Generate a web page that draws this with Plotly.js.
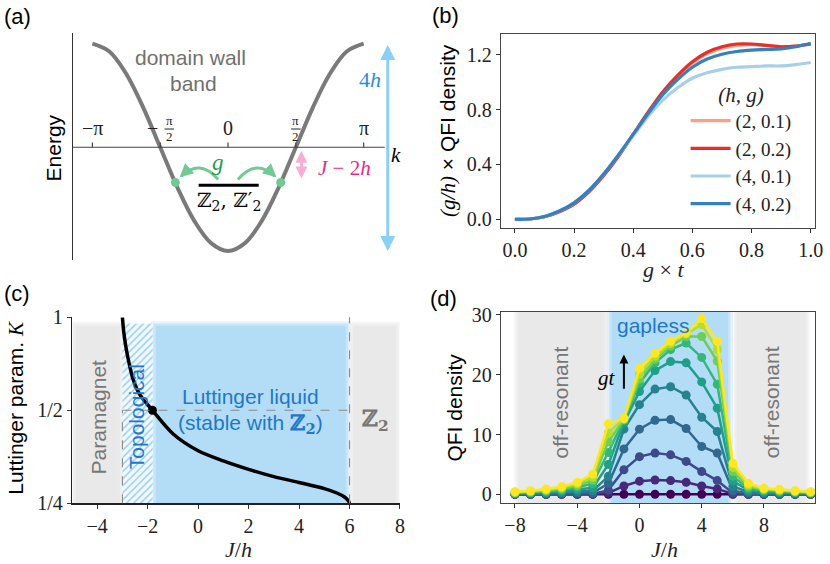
<!DOCTYPE html>
<html><head><meta charset="utf-8">
<script src="https://cdn.plot.ly/plotly-3.0.1.min.js"></script>
<style>body{margin:0;background:#fff}#plot{width:830px;height:564px}</style>
</head><body><div id="plot"></div><script>
const SERIF='"Liberation Serif","DejaVu Serif",serif';
const SANS='"Liberation Sans","DejaVu Sans",Arial,sans-serif';
const ZFONT='"DejaVu Serif","Liberation Serif",serif';

// ---------- panel (a): domain-wall band ----------
const bandK=[-3.1416,-2.7489,-2.3562,-1.9635,-1.5708,-1.1781,-0.7854,-0.3927,0,0.3927,0.7854,1.1781,1.5708,1.9635,2.3562,2.7489,3.1416];
const bandE=[1,0.924,0.707,0.383,0,-0.383,-0.707,-0.924,-1,-0.924,-0.707,-0.383,0,0.383,0.707,0.924,1];
const resK=[-1.22,1.22];
const resE=[-0.34,-0.34];
const kTickPos=[-3.1416,-1.5708,0,1.5708,3.1416];
const kTickText=['−π','−π/2','0','π/2','π'];

// ---------- panel (b): scaled QFI vs g*t ----------
const gTime=[0,0.05,0.1,0.15,0.2,0.25,0.3,0.35,0.4,0.45,0.5,0.55,0.6,0.65,0.7,0.75,0.8,0.85,0.9,0.95,1.0];
const qfiH2G01=[0,0.002,0.018,0.055,0.11,0.2,0.32,0.46,0.62,0.78,0.93,1.05,1.14,1.21,1.25,1.27,1.275,1.27,1.26,1.265,1.28];
const qfiH2G02=[0,0.002,0.018,0.055,0.11,0.2,0.32,0.46,0.62,0.78,0.93,1.05,1.15,1.22,1.26,1.28,1.28,1.27,1.26,1.265,1.28];
const qfiH4G01=[0,0.002,0.02,0.06,0.12,0.21,0.33,0.47,0.61,0.75,0.87,0.96,1.03,1.07,1.095,1.11,1.115,1.12,1.12,1.13,1.145];
const qfiH4G02=[0,0.002,0.02,0.06,0.12,0.21,0.33,0.47,0.62,0.77,0.91,1.02,1.11,1.17,1.205,1.225,1.235,1.24,1.245,1.26,1.285];
const bNames=['(2, 0.1)','(2, 0.2)','(4, 0.1)','(4, 0.2)'];
const bColors=['#fca082','#e3302a','#a8cfe8','#3481c0'];
const bTickX=[0,0.2,0.4,0.6,0.8,1.0];
const bTickXText=['0.0','0.2','0.4','0.6','0.8','1.0'];
const bTickY=[0,0.4,0.8,1.2];
const bTickYText=['0.0','0.4','0.8','1.2'];

// ---------- panel (c): Luttinger parameter ----------
const lutJ=[-3.0,-2.95,-2.86,-2.72,-2.57,-2.3,-1.81,-1.0,0,1,2,3,4,5,5.5,5.8,5.95,6.0];
const lutK=[1.0,0.9,0.8,0.7,0.627,0.56,0.5,0.42,0.37,0.343,0.322,0.305,0.292,0.279,0.27,0.262,0.255,0.25];
const critJ=[-1.81];
const critK=[0.5];
const topoX=[-3.0,-1.8,-1.8,-3.0];
const topoY=[0.25,0.25,0.955,0.955];
const cTickX=[-4,-2,0,2,4,6,8];
const cTickXText=['−4','−2','0','2','4','6','8'];
const cTickY=[0.25,0.5,1];
const cTickYText=['1/4','1/2','1'];

// ---------- panel (d): QFI density vs J/h for increasing gt ----------
const jVals=[-8,-7,-6,-5,-4,-3,-2,-1,0,1,2,3,4,5,6,7,8,9,10,11];
const qfiT0=[0,0,0,0,0,0,0,0,0,0,0,0,0,0,0,0,0,0,0,0];
const qfiT1=[0,0,0,0,0,0.02,0.2,1.4,2.2,2.4,2.3,2.0,1.4,0.9,0.05,0,0,0,0,0];
const qfiT2=[0,0,0.01,0.02,0.04,0.07,0.7,4.1,6.3,6.9,6.6,5.5,3.8,2.3,0.2,0.05,0.02,0.01,0,0];
const qfiT3=[0.03,0.05,0.07,0.1,0.2,0.25,1.8,7.6,10.9,12.4,12.5,11.0,8.0,6.9,0.6,0.15,0.08,0.05,0.04,0.03];
const qfiT4=[0.07,0.1,0.15,0.25,0.45,0.6,3.0,10.9,15.0,17.6,18.0,16.6,12.9,10.5,1.3,0.4,0.2,0.15,0.1,0.08];
const qfiT5=[0.12,0.2,0.3,0.45,0.8,1.1,5.0,12.0,17.2,20.7,22.2,22.0,18.8,14.4,2.2,0.7,0.4,0.3,0.22,0.15];
const qfiT6=[0.2,0.3,0.45,0.7,1.15,1.8,7.0,12.4,18.6,22.0,24.2,25.3,22.9,18.4,3.0,1.0,0.6,0.45,0.33,0.23];
const qfiT7=[0.28,0.4,0.6,0.9,1.45,2.4,8.8,12.5,19.3,22.6,24.8,26.4,26.4,22.3,3.8,1.3,0.75,0.58,0.42,0.3];
const qfiT8=[0.35,0.5,0.75,1.1,1.75,2.9,10.3,12.6,20.1,23.1,25.2,26.8,28.4,24.2,4.5,1.55,0.9,0.7,0.5,0.37];
const qfiT9=[0.44,0.6,0.89,1.28,2.0,3.4,11.8,12.7,21.1,23.6,25.6,27.0,29.4,25.6,5.2,1.84,1.0,0.84,0.6,0.44];
const viridis=['#440154','#482878','#3e4989','#31688e','#26828e','#1f9e89','#35b779','#6ece58','#b5de2b','#fde725'];
const dTickX=[-8,-4,0,4,8];
const dTickXText=['−8','−4','0','4','8'];
const dTickY=[0,10,20,30];

const traces=[];
// (a)
traces.push({x:bandK,y:bandE,xaxis:'x',yaxis:'y',mode:'lines',line:{color:'#7a7a7a',width:4,shape:'spline',smoothing:1},showlegend:false,hoverinfo:'skip'});
traces.push({x:resK,y:resE,xaxis:'x',yaxis:'y',mode:'markers',marker:{color:'#72c994',size:9},showlegend:false,hoverinfo:'skip'});
// (b)
[qfiH2G01,qfiH2G02,qfiH4G01,qfiH4G02].forEach((arr,i)=>{
  traces.push({x:gTime,y:arr,xaxis:'x2',yaxis:'y2',mode:'lines',name:bNames[i],line:{color:bColors[i],width:3.2,shape:'spline'},showlegend:true,hoverinfo:'skip'});
});
// (c)
traces.push({x:topoX,y:topoY,xaxis:'x3',yaxis:'y3',mode:'none',fill:'toself',fillcolor:'#eef7fd',
  fillpattern:{shape:'/',fgcolor:'#9ccff3',bgcolor:'#f2f9fe',size:5,solidity:0.3},showlegend:false,hoverinfo:'skip'});
traces.push({x:lutJ,y:lutK,xaxis:'x3',yaxis:'y3',mode:'lines',line:{color:'#000',width:3.5,shape:'spline',smoothing:0.8},showlegend:false,hoverinfo:'skip'});
traces.push({x:critJ,y:critK,xaxis:'x3',yaxis:'y3',mode:'markers',marker:{color:'#000',size:9},showlegend:false,hoverinfo:'skip'});
// (d)
[qfiT0,qfiT1,qfiT2,qfiT3,qfiT4,qfiT5,qfiT6,qfiT7,qfiT8,qfiT9].forEach((arr,i)=>{
  traces.push({x:jVals,y:arr,xaxis:'x4',yaxis:'y4',mode:'lines+markers',line:{color:viridis[i],width:2.5},
    marker:{color:viridis[i],size:9},showlegend:false,hoverinfo:'skip',cliponaxis:false});
});

const shapes=[];
function softRect(xref,yref,x0,x1,y0,y1,color,dx,dy){
  shapes.push({type:'rect',xref,yref,x0:x0-dx,x1:x1+dx,y0:y0,y1:y1+dy,fillcolor:color,opacity:0.3,line:{width:0},layer:'below'});
  shapes.push({type:'rect',xref,yref,x0:x0,x1:x1,y0:y0,y1:y1,fillcolor:color,opacity:0.6,line:{width:0},layer:'below'});
  shapes.push({type:'rect',xref,yref,x0:x0+dx,x1:x1-dx,y0:y0,y1:y1-dy,fillcolor:color,opacity:1,line:{width:0},layer:'below'});
}
const GRAY='#e9e9e9', BLUE='#b3dcf7';
// (c) regions (y in domain fraction)
softRect('x3','y3 domain',-4.95,-3.0,0,0.967,GRAY,0.1,0.012);
softRect('x3','y3 domain',-1.78,5.95,0,0.967,BLUE,0.1,0.012);
softRect('x3','y3 domain',6.05,7.95,0,0.967,GRAY,0.1,0.012);
// (d) regions
softRect('x4','y4 domain',-7.95,-2.1,0,1,GRAY,0.15,0.0);
softRect('x4','y4 domain',-1.95,5.85,0,1,BLUE,0.15,0.0);
softRect('x4','y4 domain',6.1,10.85,0,1,GRAY,0.15,0.0);
// (c) dashed guides
const dash={color:'#8a8a8a',width:1.1,dash:'dash'};
shapes.push({type:'line',xref:'x3',yref:'y3 domain',x0:-3,x1:-3,y0:0,y1:0.5,line:dash});
shapes.push({type:'line',xref:'x3',yref:'y3 domain',x0:-3,x1:6,y0:0.5,y1:0.5,line:dash});
shapes.push({type:'line',xref:'x3',yref:'y3 domain',x0:6,x1:6,y0:0,y1:1,line:dash});
// (a) k axis line + ticks
shapes.push({type:'line',xref:'x',yref:'y',x0:-3.59,x1:3.63,y0:0,y1:0,line:{color:'#444',width:1.2}});
kTickPos.forEach(k=>shapes.push({type:'line',xref:'x',yref:'y',x0:k,x1:k,y0:0,y1:0.045,line:{color:'#444',width:1.2}}));
// (a) green curved hopping arrows and overline
shapes.push({type:'path',xref:'x',yref:'y',path:'M -0.23,-0.31 Q -0.66,-0.105 -1.08,-0.28',line:{color:'#72c994',width:3}});
shapes.push({type:'path',xref:'x',yref:'y',path:'M 0.23,-0.31 Q 0.66,-0.105 1.08,-0.28',line:{color:'#72c994',width:3}});
shapes.push({type:'line',xref:'x',yref:'y',x0:-0.68,x1:0.71,y0:-0.365,y1:-0.365,line:{color:'#000',width:3}});

const ann=[];
function txt(o){ann.push(Object.assign({showarrow:false,xanchor:'center',yanchor:'middle'},o));}
// panel labels
[['(a)',0.0024,0.970],['(b)',0.518,0.973],['(c)',0.0024,0.479],['(d)',0.5157,0.470]].forEach(p=>
  txt({text:p[0],xref:'paper',yref:'paper',x:p[1],y:p[2],xanchor:'left',font:{family:SANS,size:22,color:'#000'}}));
// (a) texts
txt({text:'Energy',xref:'paper',yref:'paper',x:0.064,y:0.737,textangle:-90,font:{family:SANS,size:21,color:'#000'}});
txt({text:'domain wall',xref:'x',yref:'y',x:-0.88,y:0.87,font:{family:SANS,size:21,color:'#707070'}});
txt({text:'band',xref:'x',yref:'y',x:-0.80,y:0.615,font:{family:SANS,size:21,color:'#707070'}});
txt({text:'4<i>h</i>',xref:'x',yref:'y',x:3.29,y:0.65,font:{family:SERIF,size:22,color:'#2b8cd6'}});
txt({text:'<i>J</i> − 2<i>h</i>',xref:'x',yref:'y',x:2.70,y:-0.20,font:{family:SERIF,size:21,color:'#e7298a'}});
txt({text:'<i>k</i>',xref:'x',yref:'y',x:3.90,y:-0.07,font:{family:SERIF,size:21,color:'#000'}});
txt({text:'<i>g</i>',xref:'x',yref:'y',x:-0.23,y:-0.15,font:{family:SERIF,size:23,color:'#1f9a50'}});
txt({text:'ℤ<sub>2</sub>, ℤ′<sub>2</sub>',xref:'x',yref:'y',x:0.02,y:-0.52,font:{family:ZFONT,size:20,color:'#000'}});
kTickPos.forEach((k,i)=>{
  const t=kTickText[i];
  if(t.indexOf('/')<0){
    txt({text:t,xref:'x',yref:'y',x:k,y:0.185,font:{family:SERIF,size:20,color:'#222'}});
  } else {
    const neg=t[0]==='−';
    const fc=neg?k+0.21:k;
    if(neg) txt({text:'−',xref:'x',yref:'y',x:k-0.17,y:0.185,font:{family:SERIF,size:20,color:'#222'}});
    txt({text:'π',xref:'x',yref:'y',x:fc,y:0.255,font:{family:SERIF,size:13,color:'#222'}});
    txt({text:'2',xref:'x',yref:'y',x:fc,y:0.105,font:{family:SERIF,size:13,color:'#222'}});
    shapes.push({type:'line',xref:'x',yref:'y',x0:fc-0.11,x1:fc+0.11,y0:0.176,y1:0.176,line:{color:'#222',width:1}});
  }
});
// (a) arrows
ann.push({xref:'x',yref:'y',axref:'x',ayref:'y',x:3.70,y:-1.0,ax:3.70,ay:1.0,text:'',showarrow:true,arrowhead:2,arrowside:'end+start',arrowsize:1,arrowwidth:3,arrowcolor:'#8ccff5'});
ann.push({xref:'x',yref:'y',axref:'x',ayref:'y',x:1.70,y:-0.30,ax:1.70,ay:-0.02,text:'',showarrow:true,arrowhead:2,arrowside:'end+start',arrowsize:0.8,arrowwidth:3,arrowcolor:'#f7aed3'});
ann.push({xref:'x',yref:'y',axref:'x',ayref:'y',x:-1.12,y:-0.29,ax:-0.95,ay:-0.225,text:'',showarrow:true,arrowhead:2,arrowsize:0.9,arrowwidth:3,arrowcolor:'#72c994'});
ann.push({xref:'x',yref:'y',axref:'x',ayref:'y',x:1.12,y:-0.29,ax:0.95,ay:-0.225,text:'',showarrow:true,arrowhead:2,arrowsize:0.9,arrowwidth:3,arrowcolor:'#72c994'});
// (b) titles
txt({text:'<span style="font-family:Liberation Serif"><i>(g/h)</i></span> × QFI density',xref:'paper',yref:'paper',x:0.5398,y:0.768,textangle:-90,font:{family:SANS,size:21,color:'#000'}});
txt({text:'<i>g</i> × <i>t</i>',xref:'paper',yref:'paper',x:0.799,y:0.522,font:{family:SERIF,size:22,color:'#222'}});
// (c) texts
txt({text:'Paramagnet',xref:'x3',yref:'y3 domain',x:-3.95,y:0.464,textangle:-90,font:{family:SANS,size:21,color:'#777'}});
txt({text:'Topological',xref:'x3',yref:'y3 domain',x:-2.44,y:0.466,textangle:-90,font:{family:SANS,size:21,color:'#1f78c8'}});
txt({text:'Luttinger liquid',xref:'x3',yref:'y3 domain',x:2.07,y:0.575,font:{family:SANS,size:21,color:'#1f78c8'}});
txt({text:'(stable with <span style="font-family:DejaVu Serif"><b>ℤ<sub>2</sub></b></span>)',xref:'x3',yref:'y3 domain',x:2.07,y:0.43,font:{family:SANS,size:21,color:'#1f78c8'}});
txt({text:'<b>ℤ<sub>2</sub></b>',xref:'x3',yref:'y3 domain',x:7.03,y:0.45,font:{family:ZFONT,size:22,color:'#777'}});
txt({text:'Luttinger param. <span style="font-family:Liberation Serif"><i>K</i></span>',xref:'paper',yref:'paper',x:0.0193,y:0.277,textangle:-90,font:{family:SANS,size:21,color:'#000'}});
txt({text:'<i>J</i>/<i>h</i>',xref:'paper',yref:'paper',x:0.287,y:0.025,font:{family:SERIF,size:22,color:'#222'}});
// (d) texts
txt({text:'gapless',xref:'x4',yref:'y4',x:0.9,y:28.3,font:{family:SANS,size:21,color:'#1f78c8'}});
txt({text:'off-resonant',xref:'x4',yref:'y4',x:-5.1,y:15.4,textangle:-90,font:{family:SANS,size:21,color:'#777'}});
txt({text:'off-resonant',xref:'x4',yref:'y4',x:8.45,y:15.4,textangle:-90,font:{family:SANS,size:21,color:'#777'}});
txt({text:'<i>gt</i>',xref:'x4',yref:'y4',x:-2.1,y:19.4,font:{family:SERIF,size:21,color:'#000'}});
ann.push({xref:'x4',yref:'y4',axref:'x4',ayref:'y4',x:-1.0,y:23.4,ax:-1.0,ay:17.4,text:'',showarrow:true,arrowhead:2,arrowsize:0.9,arrowwidth:2,arrowcolor:'#000'});
txt({text:'QFI density',xref:'paper',yref:'paper',x:0.548,y:0.277,textangle:-90,font:{family:SANS,size:21,color:'#000'}});
txt({text:'<i>J</i>/<i>h</i>',xref:'paper',yref:'paper',x:0.800,y:0.026,font:{family:SERIF,size:22,color:'#222'}});

const tickBase={ticks:'outside',ticklen:4,tickwidth:1,tickcolor:'#333',tickfont:{family:SERIF,size:20,color:'#222'},
  showgrid:false,zeroline:false,showline:true,linewidth:1.2,fixedrange:true};
const layout={
  width:830,height:564,margin:{l:0,r:0,t:0,b:0},paper_bgcolor:'#fff',plot_bgcolor:'rgba(0,0,0,0)',
  showlegend:true,
  xaxis:{domain:[0.088,0.488],anchor:'y',range:[-3.59,4.10],visible:false,fixedrange:true},
  yaxis:{domain:[0.539,0.9415],anchor:'x',range:[-1.087,1.102],showline:true,linecolor:'#333',linewidth:1.2,
    showticklabels:false,ticks:'',showgrid:false,zeroline:false,fixedrange:true},
  xaxis2:Object.assign({},tickBase,{domain:[0.6036,0.9819],anchor:'y2',range:[-0.047,1.0145],tickvals:bTickX,ticktext:bTickXText,mirror:true,linecolor:'#444'}),
  yaxis2:Object.assign({},tickBase,{domain:[0.5957,0.9397],anchor:'x2',range:[-0.064,1.353],tickvals:bTickY,ticktext:bTickYText,mirror:true,linecolor:'#444'}),
  xaxis3:Object.assign({},tickBase,{domain:[0.0867,0.4819],anchor:'y3',range:[-5,8],tickvals:cTickX,ticktext:cTickXText,linecolor:'#222'}),
  yaxis3:Object.assign({},tickBase,{domain:[0.1076,0.4374],anchor:'x3',type:'log',range:[-0.60206,0],tickvals:cTickY,ticktext:cTickYText,linecolor:'#222'}),
  xaxis4:Object.assign({},tickBase,{domain:[0.6036,0.9819],anchor:'y4',range:[-8.9,11.28],tickvals:dTickX,ticktext:dTickXText,mirror:true,linecolor:'#444'}),
  yaxis4:Object.assign({},tickBase,{domain:[0.1082,0.4468],anchor:'x4',range:[-1.45,30.5],tickvals:dTickY,mirror:true,linecolor:'#444'}),
  legend:{x:0.826,y:0.868,xanchor:'left',yanchor:'top',bgcolor:'rgba(0,0,0,0)',font:{family:SERIF,size:19,color:'#222'},
    title:{text:'<i>(h, g)</i>',side:'top center',font:{family:SERIF,size:21,color:'#222'}},itemwidth:40,tracegroupgap:0},
  shapes:shapes,annotations:ann
};
Plotly.newPlot('plot',traces,layout,{displayModeBar:false,staticPlot:true});
</script></body></html>
